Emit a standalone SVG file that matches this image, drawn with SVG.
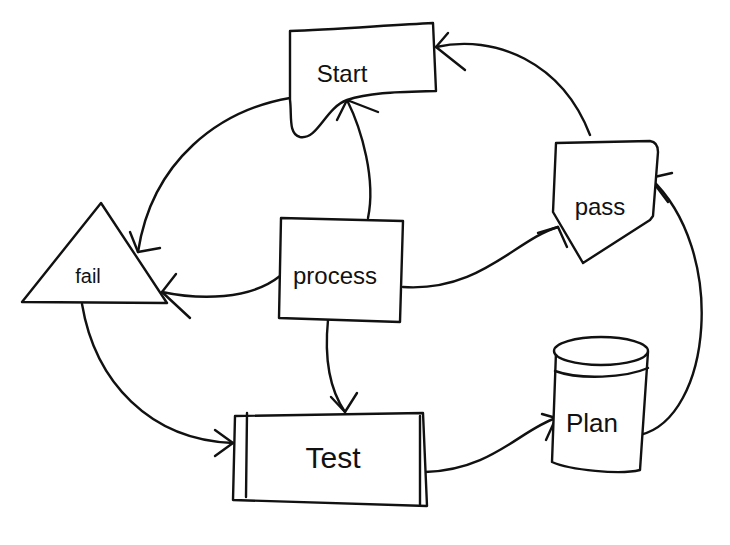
<svg xmlns="http://www.w3.org/2000/svg" width="730" height="545" viewBox="0 0 730 545">
<style>
.s{fill:none;stroke:#111;stroke-width:2.4;stroke-linecap:round;stroke-linejoin:round}
.f{fill:#fff;stroke:#111;stroke-width:2.4;stroke-linecap:round;stroke-linejoin:round}
.t{font-family:"Liberation Sans","DejaVu Sans",sans-serif;font-size:24px;fill:#111;text-anchor:middle}
</style>
<rect width="730" height="545" fill="#fff"/>
<g id="connectors">
<path class="s" d="M368,218 C376,180 362,130 347,100"/>
<path class="s" d="M337,120 L347,100 L378,112"/>
<path class="s" d="M290,98 C220,110 152,160 138,252"/>
<path class="s" d="M130,232 L138,252 L160,248"/>
<path class="s" d="M280,276 C250,300 200,300 162,292"/>
<path class="s" d="M176,274 L162,292 L190,318"/>
<path class="s" d="M403,287 C480,292 515,240 558,227"/>
<path class="s" d="M538,233 L558,227 L567,247"/>
<path class="s" d="M590,135 C562,62 495,34 436,47"/>
<path class="s" d="M448,33 L436,47 L465,70"/>
<path class="s" d="M640,435 C712,418 728,250 650,178"/>
<path class="s" d="M672,173 L650,178 L668,202"/>
<path class="s" d="M328,320 C324,360 330,390 345,412"/>
<path class="s" d="M331,397 L345,412 L357,393"/>
<path class="s" d="M82,304 C95,382 150,440 233,443"/>
<path class="s" d="M215,430 L233,443 L215,456"/>
<path class="s" d="M425,472 C492,470 520,430 556,418"/>
<path class="s" d="M542,414 L556,418 L546,440"/>
</g>
<g id="start">
<path class="f" d="M290,31 C330,30 390,25 433,23 L436,91 C400,92 370,92 347,100 C325,108 318,140 300,137 C288,134 292,115 290,100 Z"/>
<text class="t" x="342" y="82">Start</text>
</g>
<g id="pass">
<path class="f" d="M556,143 L650,141 Q658,142 658,152 L653,216 L650,220 L583,263 L553,212 Z"/>
<text class="t" x="600" y="215">pass</text>
</g>
<g id="fail">
<path class="f" d="M101,203 L167,303 L22,302 Z"/>
<text class="t" x="88" y="283" style="font-size:20px">fail</text>
</g>
<g id="process">
<path class="f" d="M281,218 L403,221 L400,322 L279,318 Z"/>
<text class="t" x="335" y="284">process</text>
</g>
<g id="test">
<path class="f" d="M235,416 L423,413 L427,506 L233,500 Z"/>
<path class="s" d="M247,413 L246,497 M420,416 L420,505"/>
<text class="t" x="333" y="468" style="font-size:30px">Test</text>
</g>
<g id="plan">
<path class="f" d="M556,352 L552,462 C570,470 620,475 640,470 L648,352"/>
<ellipse class="f" cx="601" cy="351" rx="47" ry="14"/>
<path class="s" d="M555,371 C580,380 625,378 648,368"/>
<text class="t" x="592" y="432" style="font-size:26px">Plan</text>
</g>
</svg>
